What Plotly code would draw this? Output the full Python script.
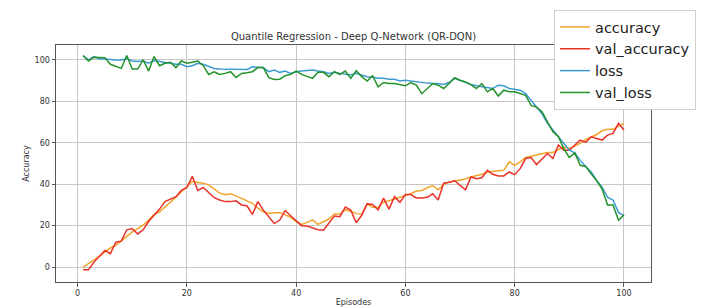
import plotly.graph_objects as go

episodes = list(range(1, 101))

accuracy = [0, 1.6, 3.6, 5.2, 7.3, 9.2, 10.5, 12.6, 14.6, 17,
            18.6, 20.2, 22.7, 25.4, 26.7, 29, 31.6, 33.7, 36.4, 38.9,
            41.3, 40.8, 40.5, 39.7, 37.8, 35.7, 34.9, 35.4, 34.4, 33.2,
            32, 30.8, 28.4, 26.7, 26, 26, 26.3, 25.2, 24, 22,
            20.6, 21.6, 22.8, 20.6, 21.8, 23.2, 25.6, 25.6, 27.6, 27,
            25.8, 25.6, 30.5, 28.9, 28.9, 31.3, 32, 33, 33.7, 34.6,
            35.4, 36.7, 37, 38.3, 39.3, 37.3, 39.9, 41, 41.5, 42.2,
            42.5, 43.5, 44, 44.8, 45.9, 46.2, 46.4, 46.7, 50.8, 49.1,
            50.8, 52.9, 53.5, 54, 54.8, 55.3, 55.3, 56.8, 58, 57.2,
            58.4, 59.7, 61.6, 62.9, 64, 65.8, 66.5, 66.5, 67.8, 69.4]

val_accuracy = [-1.3, -1.3, 2.4, 5.2, 8, 6.5, 12, 12.5, 18, 18.6,
                16, 18, 22, 25, 28, 31.6, 32.7, 34, 37, 38.4,
                43.8, 37, 38.4, 36, 33.5, 32.4, 31.6, 31.6, 32, 30,
                29.6, 25.4, 31.6, 27.5, 24, 21, 22.7, 27.2, 24.8, 22.5,
                20, 19.8, 19, 18, 17.8, 21, 24.6, 24.3, 29, 27.5,
                21.4, 25, 30.5, 30.2, 27.6, 33.3, 28, 34, 31.3, 35,
                35, 33.4, 33.3, 33.7, 35.4, 32.4, 40.5, 40.9, 41.8, 39.4,
                37.3, 43.5, 42.7, 43.1, 46.7, 44.8, 44, 44, 45.9, 44.6,
                47.5, 52.4, 52.9, 49.5, 52.4, 54.8, 52.4, 58.9, 56.4, 56.4,
                58.9, 61.3, 60.2, 62.9, 62.1, 61.3, 63.7, 64.5, 69.4, 66.2]

loss = [102, 100, 101.6, 100.5, 100.5, 100.2, 100, 100, 100.5, 99.5,
        99.2, 99.5, 98.4, 99.7, 99.2, 98.9, 98.4, 97.9, 97.9, 96.7,
        97.2, 98.4, 97.9, 96.7, 95.9, 95.6, 95.6, 95.6, 95.6, 95.4,
        95.4, 96.7, 96.3, 96.2, 94.3, 95.1, 94, 94.6, 93.5, 94.3,
        94.6, 94.8, 95.1, 94.6, 94.3, 93.5, 94, 93.5, 93, 92.7,
        93.5, 92.7, 91.9, 91.6, 91.1, 91.1, 90.7, 90.7, 89.8, 90.2,
        89.8, 89.4, 89.1, 88.8, 88.6, 88.6, 88.1, 89.1, 91.1, 90.1,
        89.1, 88.1, 87.5, 87, 86.5, 86.2, 87.8, 87.5, 86.2, 85.9,
        85.4, 83.7, 80.5, 77.5, 74, 69.4, 66.2, 63.2, 59.7, 56.4,
        55.1, 51.5, 48.6, 45.9, 41.8, 38.6, 33.7, 32.4, 26.4, 24.8]

val_loss = [102.1, 99.5, 101.3, 101.1, 101.1, 97.9, 96.7, 95.9, 102.1, 95.6,
            95.6, 100, 94.6, 101.6, 97.2, 98.4, 98.9, 96.3, 99.5, 98.4,
            98.9, 99.5, 97.2, 93, 94.3, 93, 93.5, 94.3, 91.5, 93.5,
            93.8, 94.3, 96.3, 96.3, 91.4, 90.6, 90.7, 92.4, 93, 94.6,
            93, 91.9, 91.1, 94, 94, 91.9, 94.3, 93, 94.6, 91.1,
            94.8, 91.9, 89.8, 92.4, 87, 89.1, 88.6, 88.6, 88.1, 87.5,
            89.1, 87.8, 83.7, 86.2, 88.6, 87.8, 86.2, 88.6, 91.4, 90.2,
            89.4, 88.1, 86.2, 88.6, 84.6, 86.2, 82.6, 85.4, 84.6, 84.6,
            83.7, 82.9, 78, 77.2, 75, 70.2, 65.3, 63, 57, 52.9,
            55.1, 49.1, 48.6, 45, 41.8, 37.7, 30, 30, 22.6, 25.2]

series = [
    ("accuracy", accuracy, "#F2A42C"),
    ("val_accuracy", val_accuracy, "#E8322A"),
    ("loss", loss, "#3E9BD2"),
    ("val_loss", val_loss, "#23922A"),
]

x_ticks = [0, 20, 40, 60, 80, 100]
y_ticks = [0, 20, 40, 60, 80, 100]

# page body has an 8px margin, so the figure is drawn 8px in from the top-left
W, H = 717, 300
L, T, R, B = 48, 37, 74, 26
PW, PH = W - L - R, H - T - B

fig = go.Figure()
for name, vals, color in series:
    fig.add_trace(go.Scatter(x=episodes, y=vals, mode="lines", name=name,
                             line=dict(color=color, width=1.5)))

axis_common = dict(
    showgrid=True, gridcolor="#c8c8c8", gridwidth=1,
    showline=True, linecolor="#555555", linewidth=1, mirror=True,
    ticks="outside", ticklen=3.5, tickcolor="#555555",
    tickfont=dict(family="DejaVu Sans", size=8, color="#333333"),
    zeroline=False, automargin=False,
)

fig.update_layout(
    width=W, height=H,
    margin=dict(l=L, r=R, t=T, b=B, autoexpand=False),
    paper_bgcolor="white", plot_bgcolor="white",
    title=dict(text="Quantile Regression - Deep Q-Network (QR-DQN)",
               x=0.5, xref="paper", xanchor="center",
               y=1 - 28 / H, yref="container", yanchor="middle",
               font=dict(family="DejaVu Sans", size=10, color="#333333")),
    xaxis=dict(range=[-3.95, 104.95], tickvals=x_ticks,
               title=dict(text="Episodes", standoff=2,
                          font=dict(family="DejaVu Sans", size=8, color="#333333")),
               **axis_common),
    yaxis=dict(range=[-7.2, 107.2], tickvals=y_ticks,
               title=dict(text="Accuracy", standoff=3,
                          font=dict(family="DejaVu Sans", size=8, color="#333333")),
               **axis_common),
    legend=dict(x=(546 - L) / PW, y=(H - B - 2) / PH, xanchor="left", yanchor="top",
                bgcolor="white", bordercolor="#d0d0d0", borderwidth=1,
                font=dict(family="DejaVu Sans", size=14.5, color="#222222"),
                tracegroupgap=0, itemwidth=30),
    showlegend=True,
)

fig.write_html("out.html")
